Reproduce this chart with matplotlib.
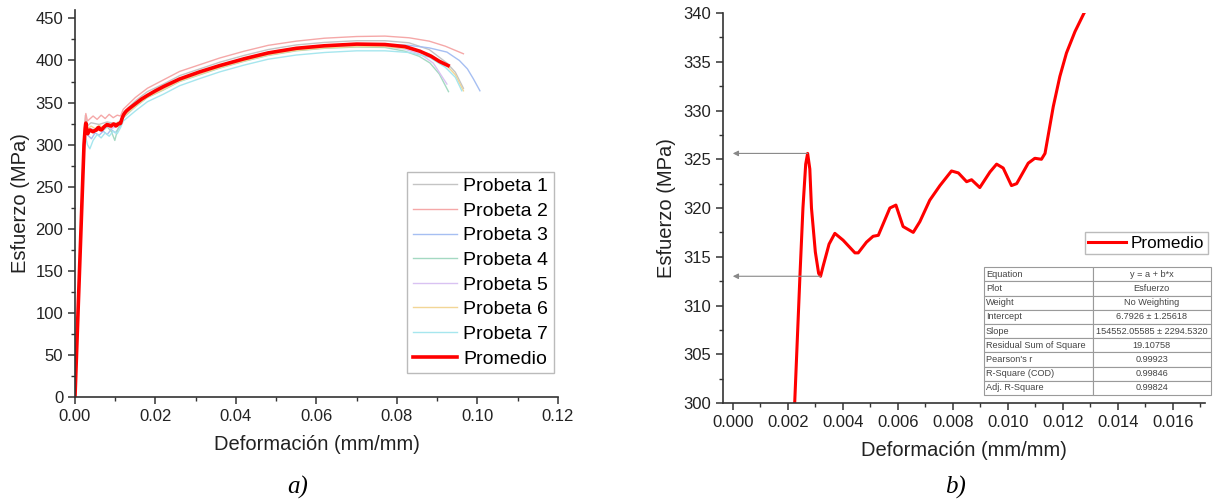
import numpy as np
import matplotlib
matplotlib.use("Agg")
import matplotlib.pyplot as plt
from matplotlib.ticker import MultipleLocator, FormatStrFormatter

plt.rcParams['font.family'] = ['Liberation Sans', 'DejaVu Sans']

# --- data (strain in mm/mm, stress in MPa) ---
prom_strain = [0.0, 0.0010, 0.0020, 0.00225, 0.00244, 0.00255, 0.00265, 0.00272, 0.0028,
               0.00286, 0.0030, 0.00312, 0.00319, 0.00328, 0.0035, 0.00371, 0.00401,
               0.00444, 0.00456, 0.00486, 0.0051, 0.00529, 0.00571, 0.00593, 0.00619,
               0.00656, 0.0068, 0.00716, 0.00753, 0.00795, 0.0082, 0.0085, 0.00868,
               0.00898, 0.00935, 0.00959, 0.00983, 0.01013, 0.01032, 0.01074, 0.01098,
               0.01122, 0.01135, 0.01165, 0.01189, 0.01213, 0.01244, 0.01277, 0.0135,
               0.015, 0.0165, 0.018, 0.020, 0.022, 0.026, 0.031, 0.036, 0.042, 0.048,
               0.055, 0.062, 0.070, 0.077, 0.082, 0.0857, 0.0885, 0.0905, 0.0918, 0.0927]
prom_stress = [0, 133, 267, 300, 313, 320, 324.5, 325.6, 324, 320, 315.5, 313.3, 313.0,
               314.0, 316.3, 317.4, 316.7, 315.4, 315.4, 316.5, 317.1, 317.2, 320.0,
               320.3, 318.1, 317.5, 318.6, 320.8, 322.3, 323.8, 323.6, 322.7, 322.9,
               322.1, 323.7, 324.5, 324.1, 322.3, 322.5, 324.6, 325.1, 325.0, 325.6,
               330.4, 333.5, 335.9, 338.1, 340.0, 343, 348.5, 354, 358.5, 364, 369, 378,
               386.5, 394, 402, 409, 414.5, 417.5, 419.5, 419, 416.5, 411, 405, 399,
               396, 394]

p1_strain = [0.0, 0.0022, 0.0026, 0.0030, 0.004, 0.006, 0.008, 0.010, 0.0113, 0.012, 0.015,
             0.018, 0.022, 0.026, 0.031, 0.036, 0.042, 0.048, 0.055, 0.062, 0.070, 0.077,
             0.083, 0.088, 0.0924, 0.0945, 0.0965]
p1_stress = [0, 300, 335, 322, 326, 324, 327, 325, 328, 338, 352, 363, 372, 382, 390, 398,
             406, 413, 418.5, 421.5, 423.5, 423.5, 421, 413, 397, 386, 367]

p2_strain = [0.0, 0.0022, 0.0027, 0.0031, 0.0045, 0.0055, 0.0065, 0.0075, 0.0085, 0.0095,
             0.0105, 0.0113, 0.012, 0.015, 0.018, 0.022, 0.026, 0.031, 0.036, 0.042, 0.048,
             0.055, 0.062, 0.070, 0.077, 0.083, 0.088, 0.092, 0.0965]
p2_stress = [0, 310, 337, 328, 334, 330, 335, 331, 336, 332, 335, 334, 342, 356, 367, 377,
             387, 395, 403, 411, 418, 423, 426.5, 428.5, 429, 427, 423, 417, 408]

p3_strain = [0.0, 0.0022, 0.0026, 0.0030, 0.0041, 0.005, 0.006, 0.007, 0.008, 0.009, 0.010,
             0.0113, 0.012, 0.015, 0.018, 0.022, 0.026, 0.031, 0.036, 0.042, 0.048, 0.055,
             0.062, 0.070, 0.077, 0.083, 0.088, 0.0924, 0.0955, 0.0975, 0.099, 0.1006]
p3_stress = [0, 290, 318, 312, 307, 314, 311, 316, 312, 318, 314, 322, 333, 346, 357, 366,
             376, 384.5, 392.5, 400.5, 407.5, 413, 416.5, 418.5, 419, 418, 415, 410, 400,
             390, 378, 364]

p4_strain = [0.0, 0.0022, 0.0026, 0.003, 0.004, 0.005, 0.006, 0.007, 0.008, 0.009, 0.0099,
             0.0106, 0.0113, 0.012, 0.015, 0.018, 0.022, 0.026, 0.031, 0.036, 0.042, 0.048,
             0.055, 0.062, 0.070, 0.077, 0.082, 0.0855, 0.0882, 0.0905, 0.0928]
p4_stress = [0, 295, 322, 315, 318, 316, 320, 317, 321, 316, 305, 318, 324, 332, 345, 356,
             365, 375, 383, 391, 399, 406, 411.5, 414.5, 416, 415.5, 411, 405, 397, 384, 363]

p5_strain = [0.0, 0.0022, 0.0026, 0.003, 0.004, 0.005, 0.006, 0.007, 0.008, 0.009, 0.010,
             0.0113, 0.012, 0.015, 0.018, 0.022, 0.026, 0.031, 0.036, 0.042, 0.048, 0.055,
             0.062, 0.070, 0.077, 0.082, 0.086, 0.089, 0.0924]
p5_stress = [0, 298, 324, 316, 319, 317, 321, 318, 322, 319, 321, 325, 333, 346, 357.5,
             366.5, 376.5, 384.5, 392.5, 400.5, 407.5, 413, 416, 417.5, 417, 413.5, 407,
             397, 372]

p6_strain = [0.0, 0.0022, 0.0026, 0.003, 0.004, 0.005, 0.006, 0.007, 0.008, 0.009, 0.010,
             0.0113, 0.012, 0.015, 0.018, 0.022, 0.026, 0.031, 0.036, 0.042, 0.048, 0.055,
             0.062, 0.070, 0.077, 0.083, 0.088, 0.092, 0.0945, 0.0965]
p6_stress = [0, 296, 326, 318, 322, 319, 323, 320, 324, 321, 325, 327, 333, 345.5, 356.5,
             365.5, 375.5, 383.5, 391.5, 399.5, 406.5, 412, 415, 416.5, 416.5, 414, 408,
             396, 383, 364]

p7_strain = [0.0, 0.0022, 0.0026, 0.0031, 0.0037, 0.0045, 0.0055, 0.0065, 0.0075, 0.0085,
             0.0095, 0.0105, 0.0113, 0.012, 0.015, 0.018, 0.022, 0.026, 0.031, 0.036, 0.042,
             0.048, 0.055, 0.062, 0.070, 0.077, 0.083, 0.088, 0.092, 0.0945, 0.0961]
p7_stress = [0, 288, 310, 300, 295, 305, 312, 308, 314, 310, 316, 313, 320, 328, 340, 351,
             360, 370, 378.5, 386.5, 394.5, 401.5, 406.5, 409.5, 411.5, 411.5, 409.5, 404,
             392, 380, 364]

probetas = [(p1_strain, p1_stress), (p2_strain, p2_stress), (p3_strain, p3_stress),
            (p4_strain, p4_stress), (p5_strain, p5_stress), (p6_strain, p6_stress),
            (p7_strain, p7_stress)]
probeta_labels = ['Probeta 1', 'Probeta 2', 'Probeta 3', 'Probeta 4',
                  'Probeta 5', 'Probeta 6', 'Probeta 7']
probeta_colors = ['#c4c4c4', '#f5a8a8', '#a6bff2', '#a4d9c2', '#d9c2f2', '#f2d696', '#a6e6ee']

fit_names = ['Equation', 'Plot', 'Weight', 'Intercept', 'Slope', 'Residual Sum of Square',
             "Pearson's r", 'R-Square (COD)', 'Adj. R-Square']
fit_values = ['y = a + b*x', 'Esfuerzo', 'No Weighting', '6.7926 \u00b1 1.25618',
              '154552.05585 \u00b1 2294.5320', '19.10758', '0.99923', '0.99846', '0.99824']

# --- figure ---
fig = plt.figure(figsize=(12.17, 5.03), dpi=100)
ax1 = fig.add_axes([0.0616, 0.2107, 0.3969, 0.7694])
ax2 = fig.add_axes([0.594, 0.1988, 0.396, 0.7753])


def style_axes(ax):
    for side in ['top', 'right']:
        ax.spines[side].set_visible(False)
    for side in ['left', 'bottom']:
        ax.spines[side].set_linewidth(1.2)
        ax.spines[side].set_color('#333333')
    ax.tick_params(which='major', direction='out', length=5, width=1.1,
                   labelsize=12, colors='#333333', labelcolor='#222222')
    ax.tick_params(which='minor', direction='out', length=3, width=1.0, colors='#333333')


# panel a
for (s, e), lab, col in zip(probetas, probeta_labels, probeta_colors):
    ax1.plot(s, e, color=col, lw=1.0, label=lab)
ax1.plot(prom_strain, prom_stress, color='#ff0000', lw=2.6, label='Promedio')
ax1.set_xlim(0, 0.12)
ax1.set_ylim(0, 460)
ax1.xaxis.set_major_locator(MultipleLocator(0.02))
ax1.xaxis.set_minor_locator(MultipleLocator(0.01))
ax1.xaxis.set_major_formatter(FormatStrFormatter('%.2f'))
ax1.yaxis.set_major_locator(MultipleLocator(50))
ax1.yaxis.set_minor_locator(MultipleLocator(25))
style_axes(ax1)
ax1.set_xlabel('Deformaci\u00f3n (mm/mm)', fontsize=14.5, color='#222222', labelpad=8)
ax1.set_ylabel('Esfuerzo (MPa)', fontsize=14.5, color='#222222', labelpad=4)
leg1 = ax1.legend(loc='upper right', bbox_to_anchor=(0.992, 0.582), fontsize=14,
                  frameon=True, fancybox=False, edgecolor='#bbbbbb', framealpha=1,
                  handlelength=2.3, handletextpad=0.3, labelspacing=0.36,
                  borderpad=0.3, borderaxespad=0)
leg1.get_frame().set_linewidth(1.0)

# panel b
ax2.plot(prom_strain, prom_stress, color='#ff0000', lw=2.2, label='Promedio')
ax2.set_xlim(-0.00036, 0.01716)
ax2.set_ylim(300, 340)
ax2.xaxis.set_major_locator(MultipleLocator(0.002))
ax2.xaxis.set_minor_locator(MultipleLocator(0.001))
ax2.xaxis.set_major_formatter(FormatStrFormatter('%.3f'))
ax2.yaxis.set_major_locator(MultipleLocator(5))
ax2.yaxis.set_minor_locator(MultipleLocator(2.5))
style_axes(ax2)
ax2.set_xlabel('Deformaci\u00f3n (mm/mm)', fontsize=14.5, color='#222222', labelpad=8)
ax2.set_ylabel('Esfuerzo (MPa)', fontsize=14.5, color='#222222', labelpad=5)

# upper and lower yield points marked with arrows
ps = np.array(prom_strain)
pe = np.array(prom_stress)
early = ps < 0.003
i_up = np.argmax(np.where(early, pe, -1))
after = (ps > ps[i_up]) & (ps < 0.0035)
i_low = np.where(after)[0][np.argmin(pe[after])]
for i in (i_up, i_low):
    ax2.annotate('', xy=(0.0, pe[i]), xytext=(ps[i], pe[i]),
                 arrowprops=dict(arrowstyle='-|>', color='#888888', lw=0.8,
                                 mutation_scale=8, shrinkA=0, shrinkB=0))

leg2 = ax2.legend(loc='upper right', bbox_to_anchor=(1.006, 0.438), fontsize=12.3,
                  frameon=True, fancybox=False, edgecolor='#bbbbbb', framealpha=1,
                  handlelength=2.2, handletextpad=0.3, borderpad=0.2, borderaxespad=0)
leg2.get_frame().set_linewidth(1.0)

cells = [[n, v] for n, v in zip(fit_names, fit_values)]
tbl = ax2.table(cellText=cells, colWidths=[0.48, 0.52], cellLoc='center',
                bbox=[0.5415, 0.0205, 0.471, 0.328])
tbl.auto_set_font_size(False)
tbl.set_fontsize(6.6)
for (r, c), cell in tbl.get_celld().items():
    cell.set_edgecolor('#9a9a9a')
    cell.set_linewidth(0.8)
    cell.get_text().set_color('#444444')
    if c == 0:
        cell.get_text().set_ha('left')
        cell.PAD = 0.02

fig.text(0.245, 0.03, 'a)', fontsize=18, family='Liberation Serif', style='italic',
         ha='center', va='center')
fig.text(0.785, 0.03, 'b)', fontsize=18, family='Liberation Serif', style='italic',
         ha='center', va='center')

fig.savefig('out.png', dpi=100)
